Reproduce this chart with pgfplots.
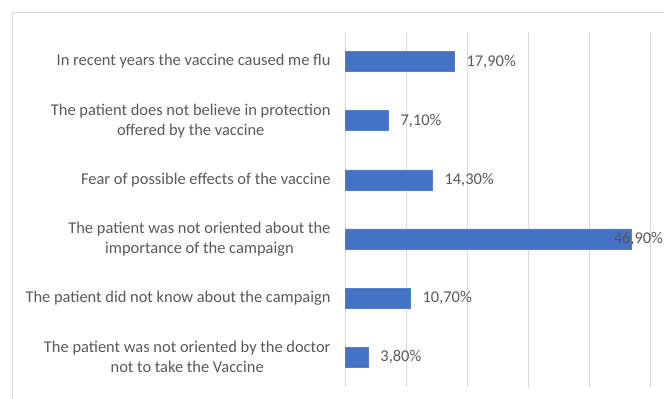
\documentclass[border=0pt]{standalone}
\usepackage{pgfplots}
\pgfplotsset{compat=1.18}
\usepackage{pgfplotstable}
\usepackage{fontspec}
\setmainfont{Carlito}
\definecolor{barblue}{HTML}{4472C4}
\definecolor{txtgray}{HTML}{595959}
\definecolor{gridgray}{HTML}{D9D9D9}
\pgfplotstableread{
y x shift
0 3.8 12
1 10.7 12
2 46.9 -18
3 14.3 12
4 7.1 12
5 17.9 12
}\datatable
\begin{document}
\begin{tikzpicture}[x=1bp,y=1bp]
\path[use as bounding box] (0,0) rectangle (664,398);
\draw[gridgray, line width=0.8bp] (12,-2) -- (12,386) -- (670,386);
\begin{axis}[
  at={(345bp,11.3bp)}, anchor=south west,
  scale only axis, width=305.5bp, height=354.7bp,
  xmin=0, xmax=50, ymin=-0.5, ymax=5.5,
  xbar, bar width=20bp,
  axis line style={draw=none},
  major tick length=0pt,
  xtick={0,10,...,50}, xticklabels={},
  xmajorgrids=true, ymajorgrids=false,
  grid style={gridgray, line width=1bp},
  ytick={0,...,5},
  yticklabels={{The patient was not oriented by the doctor\\not to take the Vaccine},
    {The patient did not know about the campaign},
    {The patient was not oriented about the\\importance of the campaign},
    {Fear of possible effects of the vaccine},
    {The patient does not believe in protection\\offered by the vaccine},
    {In recent years the vaccine caused me flu}},
  yticklabel style={align=center, font=\fontsize{16.5}{20}\selectfont, text=txtgray, xshift=-11bp},
  /pgf/number format/assume math mode=true,
  nodes near coords={\pgfmathprintnumber[use comma, fixed, fixed zerofill, precision=2]{\pgfplotspointmeta}\%},
  visualization depends on={\thisrow{shift} \as \myshift},
  every node near coord/.append style={anchor=west, xshift=\myshift*1bp, font=\fontsize{16.5}{18}\selectfont, text=txtgray, inner sep=0pt},
  point meta=explicit,
]
\addplot[fill=barblue, draw=barblue!90!white] table[x=x, y=y, meta=x] {\datatable};
\end{axis}
\end{tikzpicture}
\end{document}
